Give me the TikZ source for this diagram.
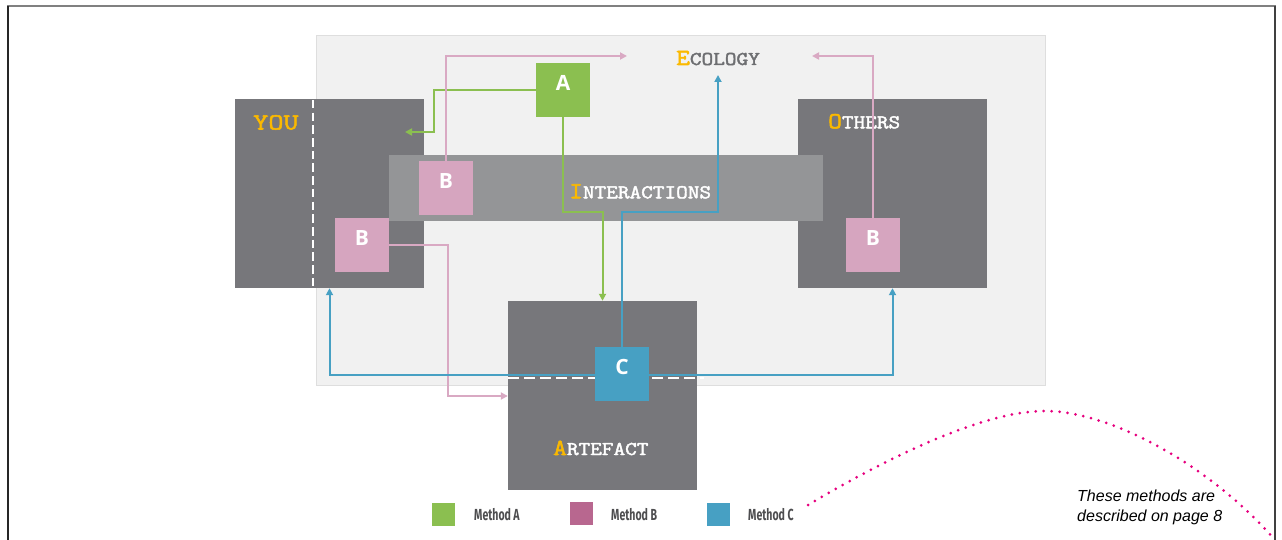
\documentclass[tikz,border=0pt]{standalone}
\usepackage{fontspec}
\usepackage{graphicx}
\setmainfont{Liberation Sans}
\newfontfamily\boxf{Open Sans}
\newfontfamily\legf{Fira Sans}[FakeStretch=0.66]
\newfontfamily\slabf{Latin Modern Mono}[FakeBold=2.2, FakeStretch=1.16]
\newfontfamily\slabyou{Latin Modern Mono}[FakeBold=2.2, FakeStretch=1.28]
\usetikzlibrary{arrows.meta}
\definecolor{boxgray}{HTML}{77777B}
\definecolor{bargray}{HTML}{949597}
\definecolor{bggray}{HTML}{F1F1F1}
\definecolor{bgline}{HTML}{DEDEDE}
\definecolor{mgreen}{HTML}{8BBF50}
\definecolor{mpink}{HTML}{D6A5BF}
\definecolor{mpinkline}{HTML}{D9A9C3}
\definecolor{mblue}{HTML}{47A0C3}
\definecolor{legpink}{HTML}{B8678F}
\definecolor{gold}{HTML}{FBB900}
\definecolor{ecogray}{HTML}{6D6E71}
\definecolor{legtext}{HTML}{4D4D4F}
\definecolor{magdot}{HTML}{E6007E}
\definecolor{framegray}{HTML}{808080}
\newcommand\capsc[2]{{\slabf{\fontsize{23}{23}\selectfont\color{gold}#1}{\fontsize{19.5}{19.5}\selectfont #2}}}
\pgfdeclarelayer{fg}
\pgfsetlayers{main,fg}
\begin{document}
\begin{tikzpicture}[x=1pt,y=-1pt,
  bigbox/.style={fill=boxgray, draw=none, minimum width=189pt, minimum height=189pt, inner sep=0},
  smallbox/.style={draw=none, minimum width=54pt, minimum height=54pt, inner sep=0},
  lettr/.style={text=white, font=\boxf\bfseries\fontsize{21}{21}\selectfont, yshift=7pt, inner sep=0},
  word/.style={anchor=base west, inner sep=0},
  tip/.tip={Triangle[length=7pt,width=7pt]},
  conn/.style={line width=2pt, -tip},
  wdash/.style={draw=white, line width=2pt},
  legsq/.style={minimum width=23pt, minimum height=23pt, inner sep=0, draw=none},
  legtxt/.style={anchor=base west, inner sep=0, text=legtext, font=\legf\bfseries\fontsize{16}{16}\selectfont}
]
\useasboundingbox (0,0) rectangle (1282,540);
\fill[white] (0,0) rectangle (1282,540);
% frame
\draw[framegray, line width=2pt] (7,6) -- (1276,6);
\draw[black!85, line width=1.6pt] (8,6) -- (8,540);
\draw[black!75, line width=1.6pt] (1275,6) -- (1275,540);
% ecology background
\node[fill=bggray, draw=bgline, line width=0.5pt, minimum width=729pt, minimum height=350pt, inner sep=0] (eco) at (680.5,210) {};
% big boxes
\node[bigbox] (you) at (329.5,193.5) {};
\node[bigbox] (others) at (892.5,193.5) {};
\node[bigbox] (art) at (602.5,395.5) {};
\node[fill=bargray, minimum width=434pt, minimum height=66pt, inner sep=0] (inter) at (606,188) {};
% dashed white lines
\draw[wdash, dash pattern=on 8.5pt off 4.2pt] (313,100) -- (313,287);
\draw[wdash, dash pattern=on 11pt off 5pt] (508,378) -- (704,378);
% small boxes on foreground
\begin{pgfonlayer}{fg}
\node[smallbox, fill=mgreen, label={[lettr]center:A}] (A) at (563,90) {};
\node[smallbox, fill=mpink, label={[lettr]center:B}] (B1) at (446,188) {};
\node[smallbox, fill=mpink, label={[lettr]center:B}] (B2) at (362,245) {};
\node[smallbox, fill=mpink, label={[lettr]center:B}] (B3) at (873,245) {};
\node[smallbox, fill=mblue, label={[lettr]center:C}] (C) at (622,374) {};
\end{pgfonlayer}
% labels
\node[word, text=gold] (tyou) at (253,129.5) {\slabyou\fontsize{23}{23}\selectfont YOU};
\node[word, text=white] (tinter) at (569,198.3) {\capsc{I}{NTERACTIONS}};
\node[word, text=ecogray] (teco) at (676,65) {\capsc{E}{COLOGY}};
\node[word, text=white] (toth) at (828,128.3) {\capsc{O}{THERS}};
\node[word, text=white] (tart) at (553,455) {\capsc{A}{RTEFACT}};
% connector coordinates
\coordinate (gbend) at (434,132);
\coordinate (gend) at (405,132);
\coordinate (gturn) at (602.5,212);
\coordinate (pend1) at (627,56);
\coordinate (pend2) at (812,56);
\coordinate (pturn) at (448,396);
\coordinate (bturn) at (718,212);
\coordinate (bend) at (718,75);
\coordinate (bmid) at (622,375);
% connectors
\draw[conn, mgreen] (A.west) -| (gbend) -- (gend);
\draw[conn, mgreen] (A.south) |- (gturn) -- (art.north);
\draw[conn, mpinkline] (B1.north) |- (pend1);
\draw[conn, mpinkline] (B3.north) |- (pend2);
\draw[conn, mpinkline] (B2.east) -| (pturn) -- (art.west |- pturn);
\draw[conn, mblue] (C.north) |- (bturn) -- (bend);
\draw[line width=2pt, mblue, tip-tip] (you.south) |- (bmid) -| (others.south);
% legend
\node[legsq, fill=mgreen] (lA) at (443.5,514.5) {};
\node[legsq, fill=legpink] (lB) at (581.5,513.5) {};
\node[legsq, fill=mblue] (lC) at (718.5,514.5) {};
\node[legtxt] (tA) at (474,520.5) {Method A};
\node[legtxt] (tB) at (611,520.5) {Method B};
\node[legtxt] (tC) at (748,520.5) {Method C};
% note
\node[anchor=base west, inner sep=0, align=left, font=\itshape\fontsize{16}{20}\selectfont] (note) at (1077,521.7) {These methods are\\described on page 8};
% dotted curve
\coordinate (d0) at (808,505);
\coordinate (d1) at (1045,411);
\coordinate (d2) at (1275,540);
\draw[magdot, line width=3pt, line cap=round, dash pattern=on 0pt off 8pt] (d0) .. controls (880,462) and (980,411) .. (d1) .. controls (1110,411) and (1210,465) .. (d2);
\end{tikzpicture}
\end{document}
